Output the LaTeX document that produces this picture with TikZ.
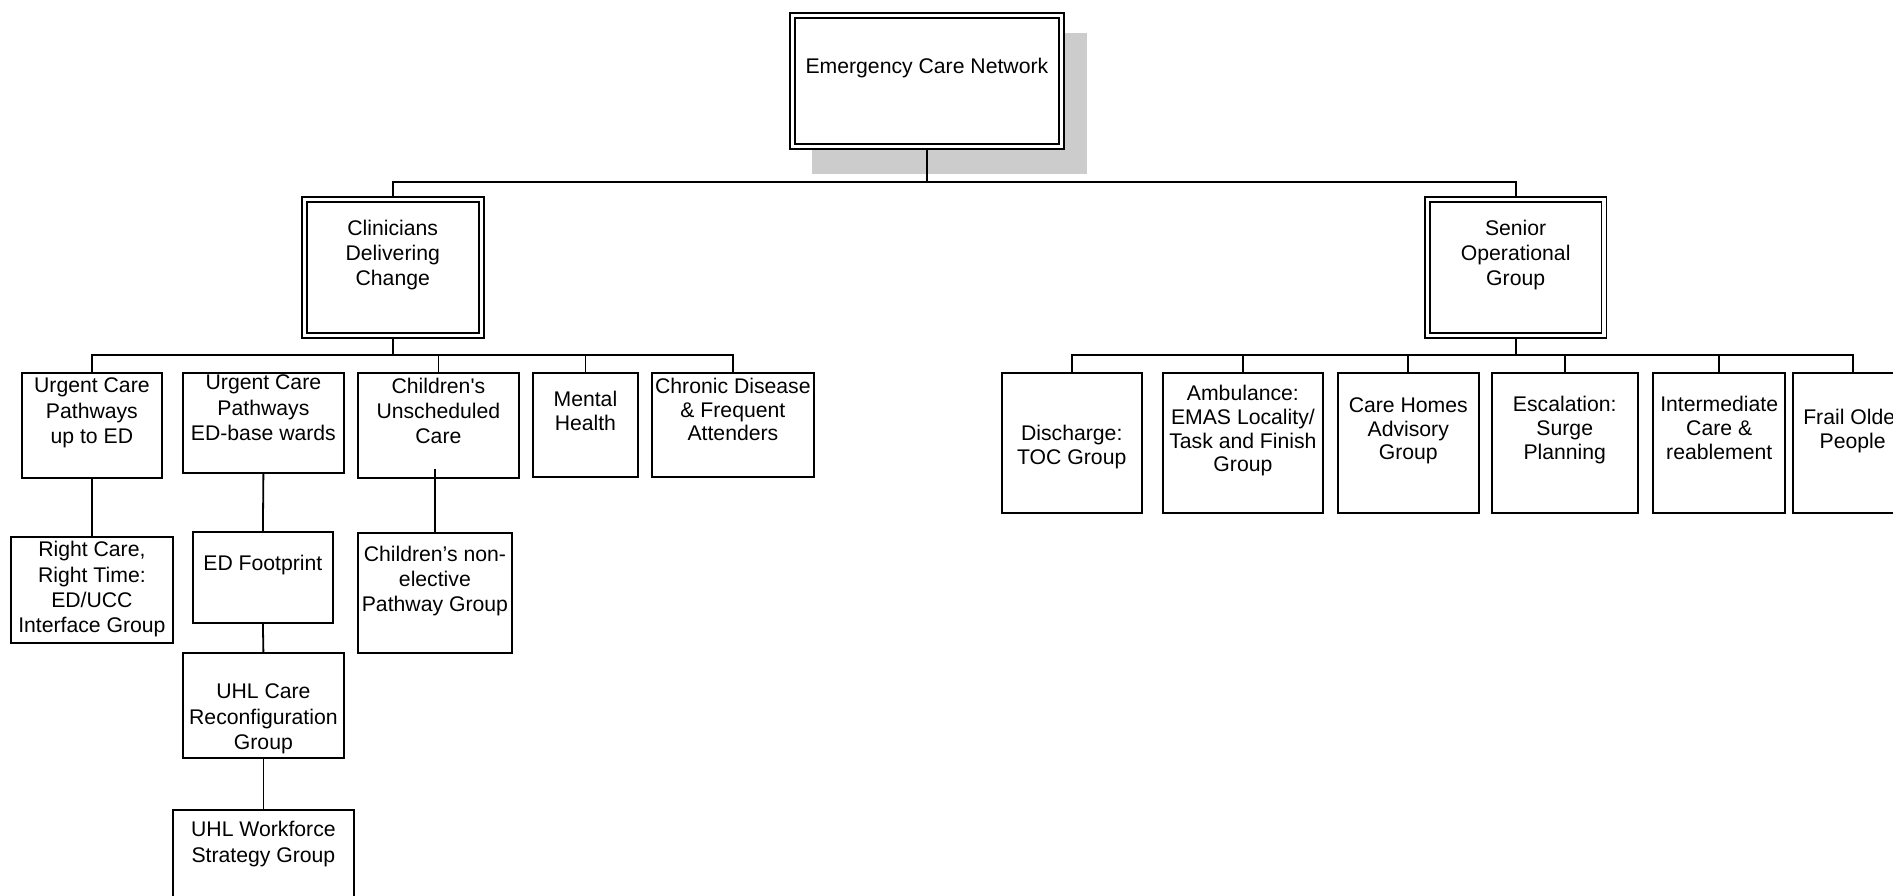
\documentclass[tikz,border=0pt]{standalone}
\usepackage{fontspec}
\setmainfont{Liberation Sans}
\usetikzlibrary{backgrounds}
\newlength\unitpx
\setlength\unitpx{0.5pt}
\newcommand{\unittext}[4]{\parbox[c][#2\unitpx][t]{#1\unitpx}{\centering\rule{0pt}{#3\unitpx}#4}}
\tikzset{
	unit/.style={draw,inner sep=0pt,anchor=north west,line width=0.9pt,font=\fontsize{10.6pt}{12.6pt}\selectfont},
	narrow/.style={font=\fontsize{10.6pt}{11.8pt}\selectfont},
	lead/.style={unit,fill=white,double,double distance=1.6pt,line width=0.9pt},
	link/.style={line width=0.9pt},
}
\begin{document}
\begin{tikzpicture}[x=0.5pt,y=-0.5pt,line width=0.9pt]
		\useasboundingbox (0,0) rectangle (1893,895);
		\clip (0,0) rectangle (1893,895);
		\node (ecn) at(791.5,14.7)[lead]{\unittext{269}{131}{58}{Emergency Care Network}};
		\node (cdc) at(303.2,198.2)[lead]{\unittext{177.3}{136}{36}{Clinicians\\Delivering\\Change}};
		\node (sog) at(1426.5,198.2)[lead]{\unittext{176.5}{136.3}{36}{Senior\\Operational\\Group}};
		\node (ucp1) at(21,372)[unit]{\unittext{140}{105}{20}{Urgent Care\\Pathways\\up to ED}};
		\node (ucp2) at(182,372)[unit]{\unittext{161}{100}{17}{Urgent Care\\Pathways\\ED-base wards}};
		\node (cuc) at(357,372)[unit]{\unittext{161}{105}{20.5}{Children\textquotesingle s\\Unscheduled\\Care}};
		\node (mh) at(532.3,372)[unit,narrow]{\unittext{104.4}{104}{34}{Mental\\Health}};
		\node (cdfa) at(650.7,372)[unit,narrow]{\unittext{162.6}{104}{20.5}{Chronic Disease\\\& Frequent\\Attenders}};
		\node (rcrt) at(10,536)[unit]{\unittext{162}{106}{20}{Right Care,\\Right Time:\\ED/UCC\\Interface Group}};
		\node (edf) at(192,531)[unit]{\unittext{140}{91}{39}{ED Footprint}};
		\node (uhlcr) at(182,652)[unit]{\unittext{161}{105}{46}{UHL Care\\Reconfiguration\\Group}};
		\node (uhlwf) at(172,809)[unit]{\unittext{181}{110}{27}{UHL Workforce\\Strategy Group}};
		\node (cne) at(357,532)[unit]{\unittext{154}{120}{28.5}{Children’s non-\\elective\\Pathway Group}};
		\node (dis) at(1001,372)[unit,narrow]{\unittext{139.7}{140}{68}{Discharge:\\TOC Group}};
		\node (amb) at(1161.7,372)[unit,narrow]{\unittext{160.6}{140}{28}{Ambulance:\\EMAS Locality/\\Task and Finish\\Group}};
		\node (chag) at(1336.7,372)[unit,narrow]{\unittext{141.3}{140}{39.5}{Care Homes\\Advisory\\Group}};
		\node (esc) at(1491,372)[unit,narrow]{\unittext{145.7}{140}{39}{Escalation:\\Surge\\Planning}};
		\node (int) at(1652.3,372)[unit,narrow]{\unittext{132}{140}{39}{Intermediate\\Care \&\\reablement}};
		\node (fop) at(1792.3,372)[unit,narrow]{\unittext{119}{140}{52}{Frail Older\\People}};
		\begin{scope}[on background layer,line width=0.9pt]
			\fill[black!20] ([shift={(20.5,18.3)}]ecn.north west) rectangle ([shift={(24.8,26)}]ecn.south east);
			\coordinate (bus1) at ([yshift=8.1pt]cdc.north);
			\coordinate (bus2) at ([yshift=-9.4pt]cdc.south);
			\coordinate (bus3) at ([yshift=-9.4pt]sog.south);
			\draw[link] (ecn.south) -- (ecn.south |- bus1);
			\draw[link] (cdc.north) |- (bus1) -| (sog.north);
			\draw[link] (cdc.south) -- (bus2);
			\draw[link] (ucp1.north) |- (bus2) -| (cdfa.north);
			\foreach \n in {cuc,mh}
				\draw[link] (\n.north) -- (\n.north |- bus2);
			\draw[link] (sog.south) -- (bus3);
			\draw[link] (dis.north) |- (bus3) -| (fop.north);
			\foreach \n in {amb,chag,esc,int}
				\draw[link] (\n.north) -- (\n.north |- bus3);
			\draw[link] (ucp1.south) -- (rcrt.north);
			\draw[link] (ucp2.south) -- (edf.north);
			\draw[link] (edf.south) -- (uhlcr.north);
			\draw[link] (uhlcr.south) -- (uhlwf.north);
			\draw[link] (cne.north) -- (cne.north |- cuc.south) -- ++(0,-10);
		\end{scope}
	\end{tikzpicture}
\end{document}
